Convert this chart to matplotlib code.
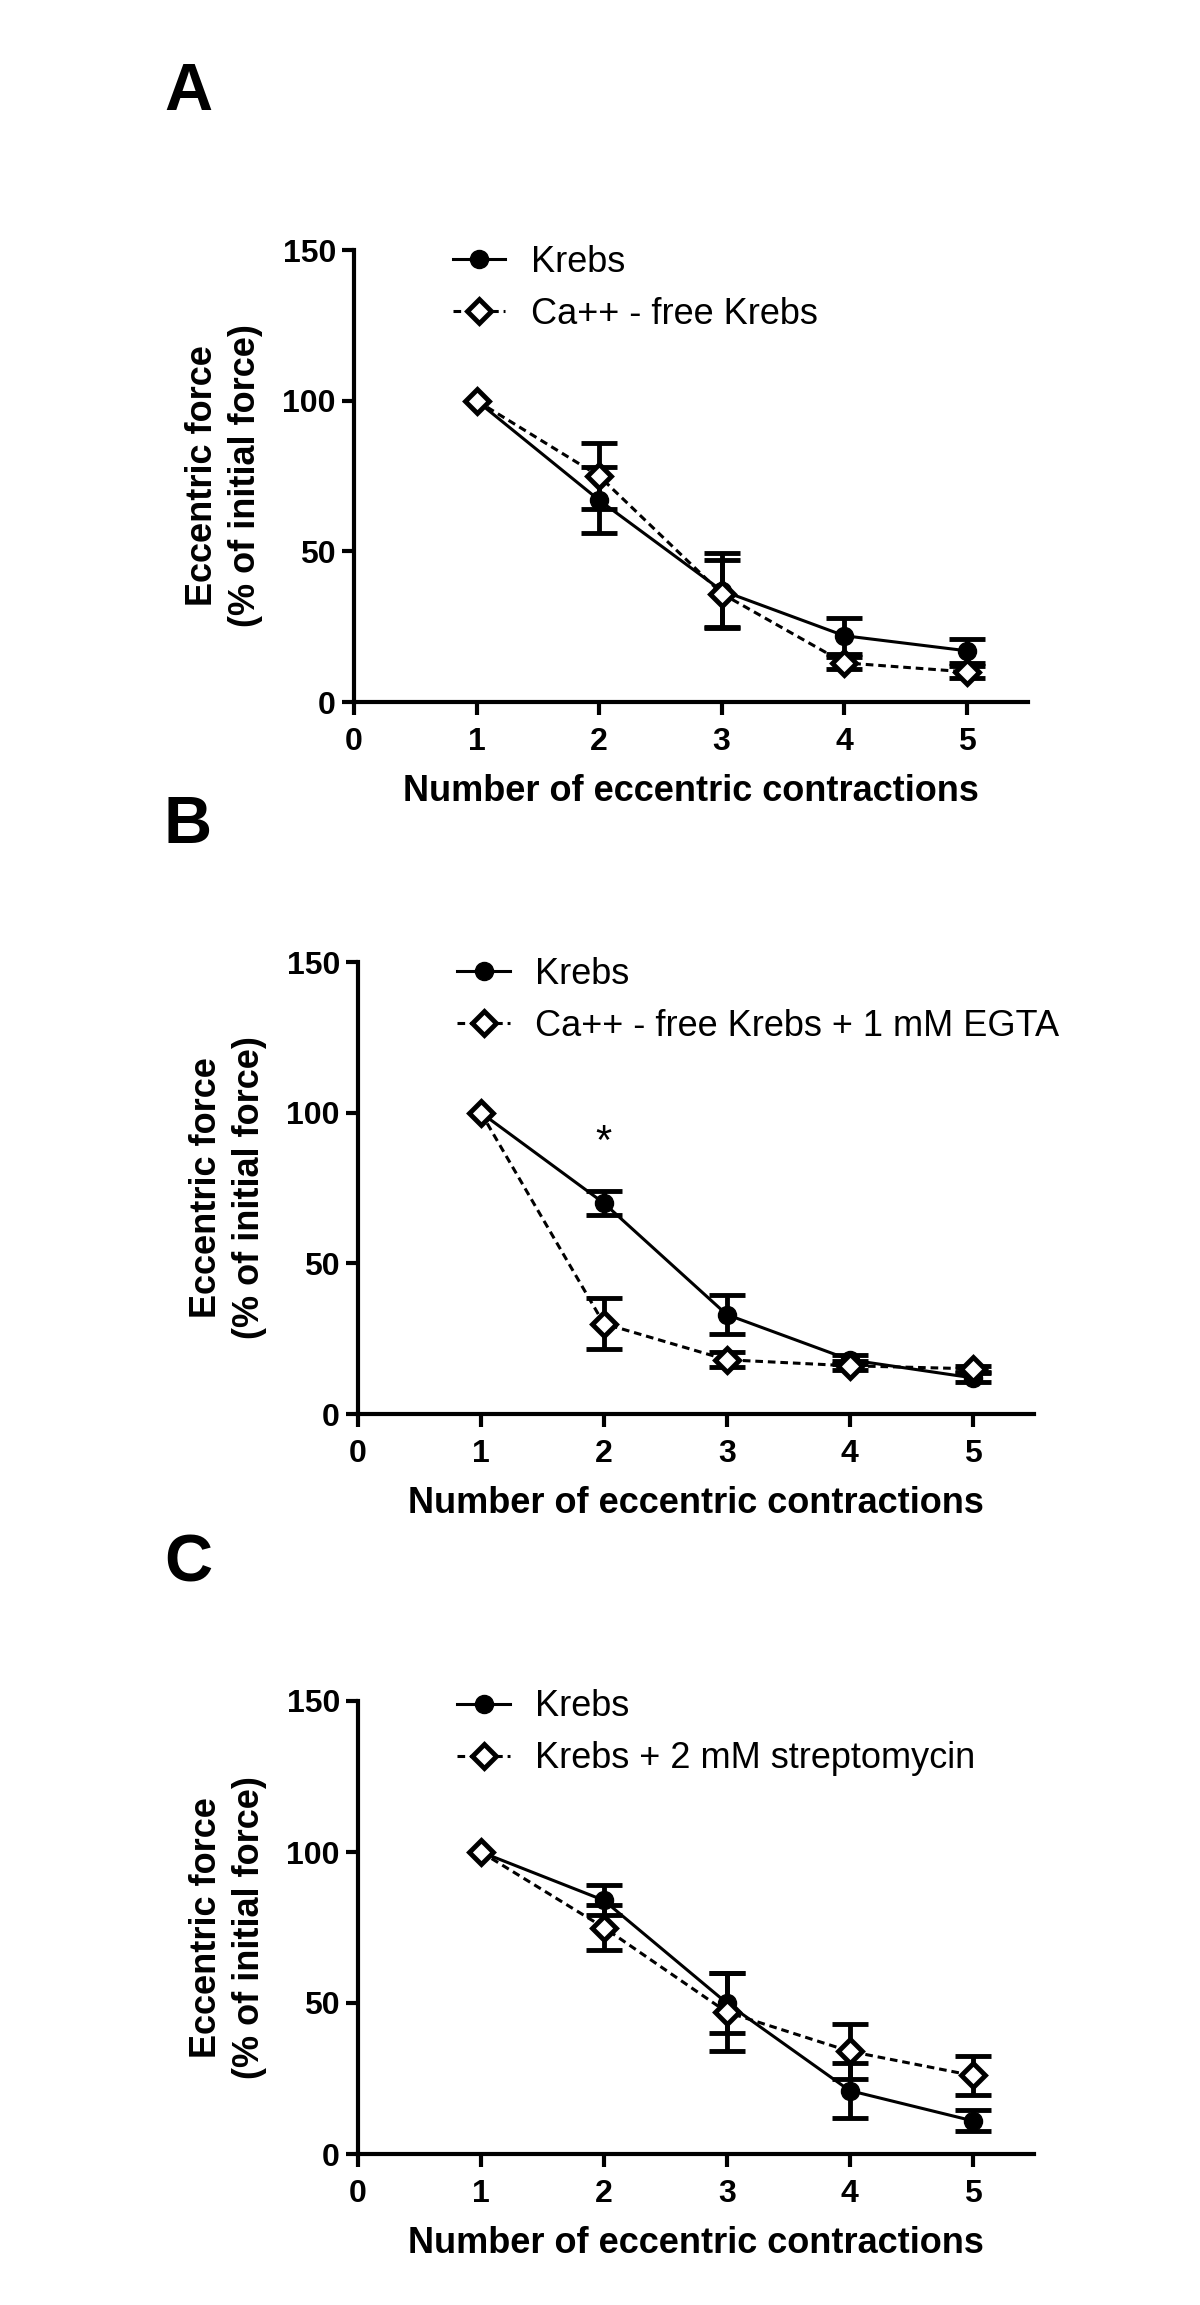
import numpy as np
import matplotlib
matplotlib.use("Agg")
import matplotlib.pyplot as plt

plt.rcParams['font.family'] = ['Liberation Sans', 'DejaVu Sans']

x = [1, 2, 3, 4, 5]

# panel A
a_krebs = [100, 67, 37, 22, 17]
a_krebs_err = [np.nan, 11, 12.5, 6, 4]
a_ca = [100, 75, 36, 13, 10]
a_ca_err = [np.nan, 11, 11, 2, 2]

# panel B
b_krebs = [100, 70, 33, 18, 12]
b_krebs_err = [np.nan, 4, 6.5, 1.5, 1.5]
b_egta = [100, 30, 18, 16, 15]
b_egta_err = [np.nan, 8.5, 2.5, 1.5, 1]

# panel C
c_krebs = [100, 84, 50, 21, 11]
c_krebs_err = [np.nan, 5, 10, 9, 3.5]
c_strep = [100, 75, 47, 34, 26]
c_strep_err = [np.nan, 7.5, 13, 9, 6.5]

panels = [
    ("A", a_krebs, a_krebs_err, a_ca, a_ca_err, "Ca++ - free Krebs"),
    ("B", b_krebs, b_krebs_err, b_egta, b_egta_err, "Ca++ - free Krebs + 1 mM EGTA"),
    ("C", c_krebs, c_krebs_err, c_strep, c_strep_err, "Krebs + 2 mM streptomycin"),
]

W, H = 1200, 2305
fig = plt.figure(figsize=(W / 100, H / 100), dpi=100)

# axes boxes in pixels: left, x-end, y(0), y(150)
boxes = [(354, 1028, 702, 250), (358, 1034, 1414, 962), (358, 1034, 2154, 1701)]
letter_y = [93, 826, 1564]
legend_mid = [0.915, 0.915, 0.93]

for (letter, k, ke, t, te, tlab), (l, r, b, tp), ly, lm in zip(panels, boxes, letter_y, legend_mid):
    ax = fig.add_axes([l / W, 1 - b / H, (r - l) / W, (b - tp) / H])
    e1 = ax.errorbar(x, k, yerr=ke, color='black', lw=2.2, marker='o', ms=13,
                     capsize=13, capthick=3.5, elinewidth=3.5, zorder=3)
    e2 = ax.errorbar(x, t, yerr=te, color='black', lw=2.2, ls=(0, (2.5, 1.6)), marker='D',
                     ms=12, mfc='white', mec='black', mew=3.5, capsize=13, capthick=3.5,
                     elinewidth=3.5, zorder=4)
    ax.set_xlim(0, 5.5)
    ax.set_ylim(0, 150)
    ax.set_xticks([0, 1, 2, 3, 4, 5])
    ax.set_yticks([0, 50, 100, 150])
    for s in ['top', 'right']:
        ax.spines[s].set_visible(False)
    for s in ['left', 'bottom']:
        ax.spines[s].set_linewidth(3)
    ax.tick_params(width=3, length=9, labelsize=23)
    ax.tick_params(axis='x', pad=9)
    ax.tick_params(axis='y', pad=4)
    for lbl in ax.get_xticklabels() + ax.get_yticklabels():
        lbl.set_fontweight('bold')
    ax.set_xlabel('Number of eccentric contractions', fontsize=26, fontweight='bold', labelpad=12)
    ax.set_ylabel('Eccentric force\n(% of initial force)', fontsize=26, fontweight='bold',
                  labelpad=14, linespacing=1.3)
    ax.legend([e1[0], e2[0]], ['Krebs', tlab], loc='center left', bbox_to_anchor=(0.147, lm),
              frameon=False, fontsize=26, handlelength=1.45, handletextpad=0.7,
              labelspacing=0.47, borderpad=0, borderaxespad=0)
    fig.text(188 / W, 1 - ly / H, letter, fontsize=48, fontweight='bold', ha='center', va='center')
    if letter == "B":
        ax.text(2, 90, '*', fontsize=30, ha='center', va='center')

fig.savefig('out.png', dpi=100)
